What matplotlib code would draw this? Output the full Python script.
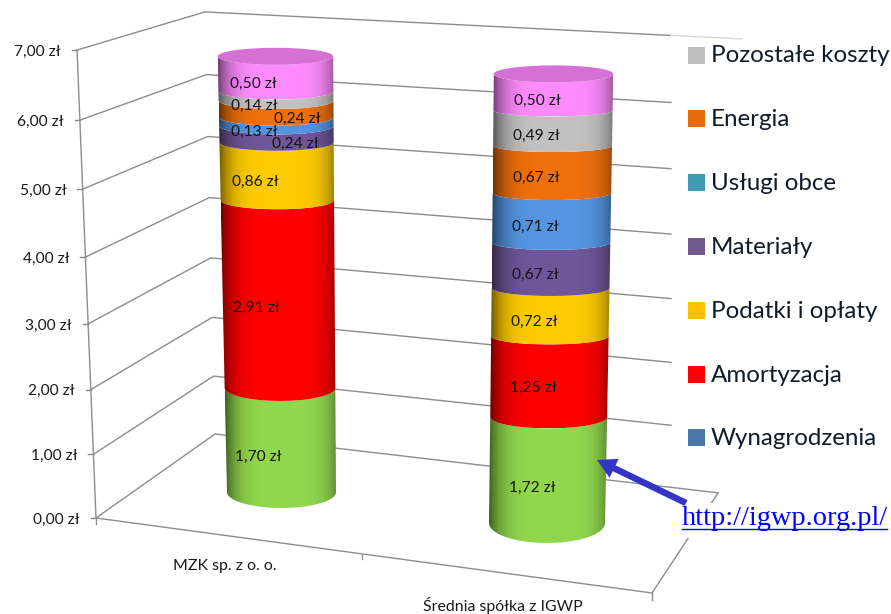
import numpy as np
import matplotlib
matplotlib.use("Agg")
import matplotlib.pyplot as plt
from matplotlib.patches import Polygon, Ellipse, Rectangle, FancyArrow

# values in zl, stacked from the bottom up
company_labels = ["MZK sp. z o. o.", "Średnia spółka z IGWP"]
mzk_values = [1.70, 2.91, 0.86, 0.24, 0.13, 0.24, 0.14, 0.50]
igwp_values = [1.72, 1.25, 0.72, 0.67, 0.71, 0.67, 0.49, 0.50]
segment_colors = ["#92D84E", "#FF0000", "#FFCC00", "#70569A",
                  "#5596E2", "#F0700C", "#C2C2C2", "#FF8CFF"]

axis_values = [0, 1, 2, 3, 4, 5, 6, 7]

legend_labels = ["Pozostałe koszty", "Energia", "Usługi obce", "Materiały",
                 "Podatki i opłaty", "Amortyzacja", "Wynagrodzenia"]
legend_colors = ["#BDBDBD", "#E46C0A", "#3F9BB3", "#71588F",
                 "#FFC000", "#FF0000", "#4A76A8"]

link_text = "http://igwp.org.pl/"

FONT = "Lato"
GRID = "#8c8c8c"
TEXT = "#1a1a1a"


def money(v):
    return f"{v:.2f}".replace(".", ",") + " zł"


# the 3D look: each of these turns a value into a pixel position
def front_axis(v):
    return 96 - 2.71 * v, 518 - 63 * v - 0.55 * v ** 2


def back_axis(v):
    return 215 - 1.43 * v, 434 - 57.5 * v - 0.4 * v ** 2


def wall_end(v):
    # right end of a wall line, legend area cuts all but the floor line
    x0, y0 = back_axis(v)
    x1 = 718 if v == 0 else 671
    return x1, y0 + (0.117 - 0.0095 * v) * (x1 - x0)


cylinders = [
    dict(values=mzk_values, cx=(281.5, -0.9), r=(54.5, 0.48), y=(492, 60, 0.72),
         b_v=[0, 1.7, 4.61, 5.47, 6.72], b_px=[16, 13, 9.2, 8.5, 8.5], label_dx=-22,
         shifted={3: 19, 5: 21}),
    dict(values=igwp_values, cx=(547, 0.97), r=(58, 0.25), y=(523, 60, 1.0),
         b_v=[0, 1.72, 2.97, 4.36, 6.23, 6.73], b_px=[20, 11.5, 8.5, 7.5, 6, 8.5], label_dx=-16,
         shifted={}),
]


def cyl_geom(c, v):
    x = c["cx"][0] + c["cx"][1] * v
    r = c["r"][0] + c["r"][1] * v
    y = c["y"][0] - c["y"][1] * v - c["y"][2] * v ** 2
    b = np.interp(v, c["b_v"], c["b_px"])
    return x, r, y, b


def arc(c, v, t0, t1):
    x, r, y, b = cyl_geom(c, v)
    t = np.linspace(t0, t1, 60)
    return np.column_stack([x + r * np.cos(t), y + b * np.sin(t)])


def shaded(color, n=200, strength=0.45):
    # horizontal strip, darker towards the sides of the cylinder
    rgb = np.array(matplotlib.colors.to_rgb(color))
    u = np.linspace(-1, 1, n)
    shade = 1 - strength * np.abs(u - 0.05) ** 4.5
    return (shade[:, None] * rgb)[None, :, :]


fig = plt.figure(figsize=(8.91, 6.14), dpi=100)
ax = fig.add_axes([0, 0, 1, 1])
ax.set_axis_off()

# walls and floor
for v in axis_values:
    fx, fy = front_axis(v)
    bx, by = back_axis(v)
    ex, ey = wall_end(v)
    ax.plot([fx, bx, ex], [fy, by, ey], color=GRID, lw=1, zorder=1)
    ax.plot([fx - 5, fx], [fy, fy], color=GRID, lw=1, zorder=1)
    ax.text(fx - 16, fy + 1.5, money(v), ha="right", va="center", family=FONT,
            fontsize=11.2, color=TEXT)

x7, y7 = wall_end(7)
ax.plot([x7, 742], [y7, y7 + 0.05 * (742 - x7)], color="#d8d8d8", lw=1, zorder=1)

ax.plot([front_axis(0)[0], front_axis(7)[0]], [front_axis(0)[1], front_axis(7)[1]], color=GRID, lw=1, zorder=1)
ax.plot([96, 96], [518, 524], color=GRID, lw=1, zorder=1)
ax.plot([96, 652, 718], [518, 593, 493], color=GRID, lw=1, zorder=1)
ax.plot([362, 362], [555, 559], color=GRID, lw=1, zorder=1)
ax.plot([652, 652], [593, 600], color=GRID, lw=1, zorder=1)

# stacked cylinders
for c in cylinders:
    tops = np.cumsum(c["values"])
    bottoms = tops - np.array(c["values"])
    for i, (v0, v1) in enumerate(zip(bottoms, tops)):
        outline = np.vstack([arc(c, v0, np.pi, 0), arc(c, v1, 0, np.pi)])
        patch = Polygon(outline, closed=True, fc="none", ec="none", transform=ax.transData)
        ax.add_patch(patch)
        left, right = outline[:, 0].min(), outline[:, 0].max()
        img = ax.imshow(shaded(segment_colors[i]), extent=[left, right, outline[:, 1].max(), outline[:, 1].min()],
                        aspect="auto", zorder=3 + i * 0.01)
        img.set_clip_path(patch)

    x, r, y, b = cyl_geom(c, tops[-1])
    ax.add_patch(Ellipse((x, y), 2 * r, 2 * b, fc="#D571D5", ec="none", zorder=3.5))

    # value labels sit around the middle of each front face
    for i, (v0, val) in enumerate(zip(bottoms, c["values"])):
        mid = v0 + val / 2
        mx, mr, my, mb = cyl_geom(c, mid)
        dx = c["shifted"].get(i, c["label_dx"])
        ax.text(mx + dx, my + mb + 1.5, money(val), ha="center", va="center", family=FONT,
                fontsize=11.2, color="#141414", zorder=5)

ax.text(225, 566, company_labels[0], ha="center", va="center", family=FONT, fontsize=11.4, color=TEXT)
ax.text(503, 606, company_labels[1], ha="center", va="center", family=FONT, fontsize=11.4, color=TEXT)

# legend
for i, (name, col) in enumerate(zip(legend_labels, legend_colors)):
    ly = 55 + i * 63.8
    ax.add_patch(Rectangle((688, ly - 8.5), 17, 17, fc=col, ec="none", zorder=6))
    ax.text(711, ly + 1, name, ha="left", va="center", family=FONT, fontsize=17.4,
            color="#0f1a2b", zorder=6)

# link and its arrow
ax.add_patch(Rectangle((676, 503), 215, 35, fc="white", ec="none", zorder=2))
ax.text(682, 525, link_text, ha="left", va="baseline", family="Liberation Serif", fontsize=20.4,
        color="#0000FF", zorder=7)
ax.plot([682, 887], [529, 529], color="#0000FF", lw=1, zorder=7)
ax.add_patch(FancyArrow(686, 503, -89, -43, width=6.5, head_width=21, head_length=19,
                        length_includes_head=True, fc="#3434C8", ec="none", zorder=8))

ax.set_xlim(0, 891)
ax.set_ylim(614, 0)
fig.savefig("out.png", dpi=100, facecolor="white")
